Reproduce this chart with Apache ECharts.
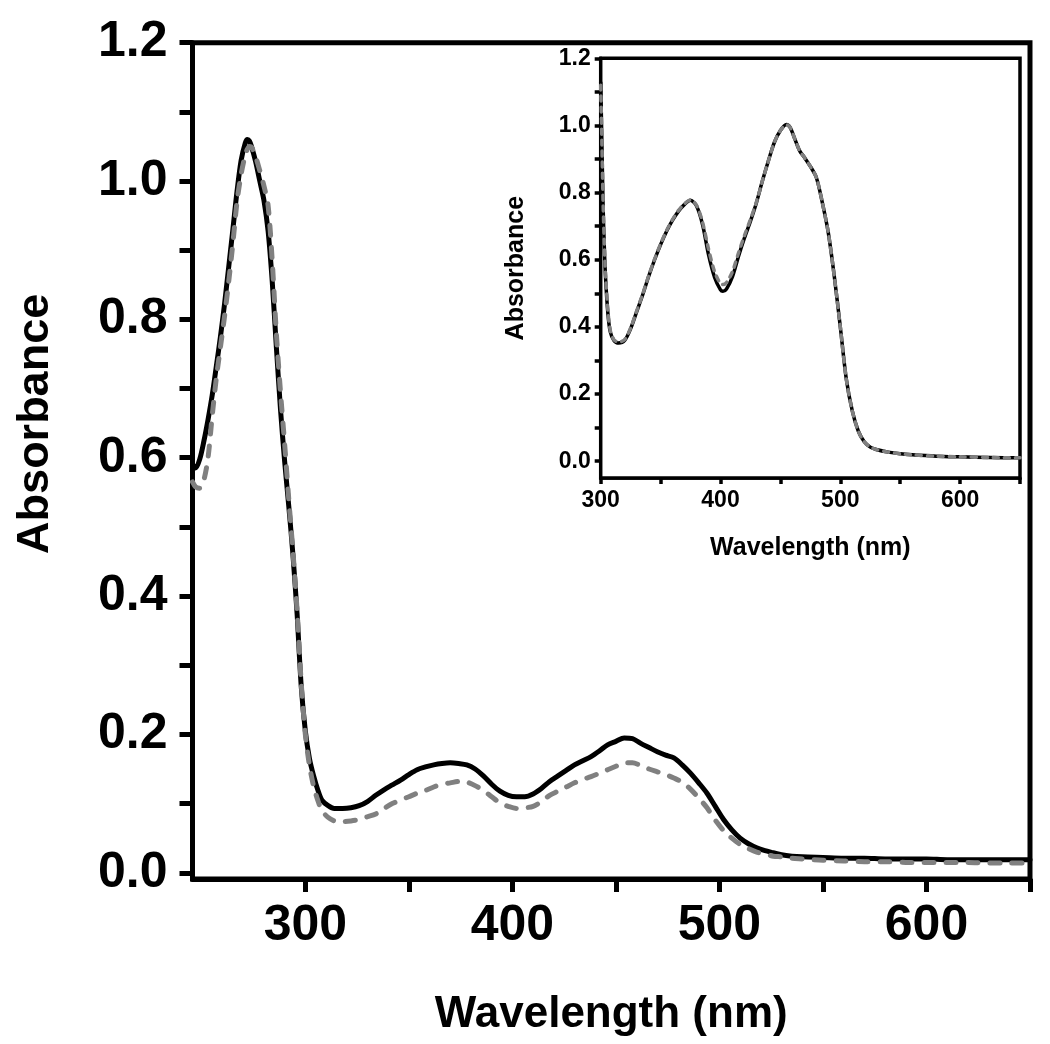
<!DOCTYPE html>
<html>
<head>
<meta charset="utf-8">
<script src="https://cdn.jsdelivr.net/npm/echarts@6/dist/echarts.min.js"></script>
<style>
html,body{margin:0;padding:0;background:#fff;}
#c{width:1050px;height:1044px;}
</style>
</head>
<body>
<div id="c"></div>
<script>
// ---------- Data ----------
const mainWl = [245.5,247,249,251,253,255,257,259,261,263,265,267,269,271,272,273,274,276,278,280,282,284,286,288,290,292,294,296,298,300,302,304,306,308,311,314,318,322,326,330,334,338,342,346,350,354,358,362,366,370,374,378,382,386,390,394,398,402,406,410,414,418,422,426,430,434,438,442,446,450,454,458,462,466,470,474,478,482,486,490,494,498,502,506,510,514,518,522,526,530,535,540,550,560,570,580,590,600,610,620,630,640,650];
const mainSolid = [0.590,0.585,0.598,0.624,0.655,0.690,0.732,0.775,0.823,0.876,0.930,0.985,1.030,1.055,1.060,1.058,1.050,1.028,1.000,0.972,0.928,0.855,0.760,0.670,0.595,0.530,0.460,0.375,0.270,0.205,0.165,0.140,0.120,0.105,0.097,0.093,0.093,0.094,0.097,0.103,0.112,0.120,0.127,0.134,0.142,0.149,0.153,0.156,0.158,0.159,0.158,0.156,0.150,0.140,0.128,0.118,0.112,0.110,0.110,0.114,0.122,0.132,0.140,0.148,0.156,0.162,0.168,0.176,0.185,0.190,0.195,0.194,0.187,0.181,0.175,0.170,0.166,0.156,0.144,0.130,0.115,0.096,0.077,0.062,0.050,0.042,0.036,0.032,0.029,0.026,0.024,0.023,0.022,0.021,0.021,0.020,0.020,0.020,0.019,0.019,0.019,0.019,0.019];
const mainDashed = [0.565,0.558,0.556,0.568,0.600,0.660,0.715,0.760,0.805,0.855,0.910,0.970,1.010,1.038,1.046,1.050,1.049,1.035,1.015,0.993,0.965,0.885,0.780,0.695,0.620,0.540,0.465,0.380,0.275,0.200,0.155,0.125,0.105,0.090,0.080,0.075,0.074,0.075,0.077,0.081,0.085,0.093,0.100,0.105,0.110,0.115,0.119,0.124,0.128,0.130,0.132,0.131,0.126,0.119,0.110,0.101,0.096,0.093,0.094,0.096,0.103,0.112,0.118,0.124,0.130,0.135,0.139,0.144,0.149,0.154,0.159,0.159,0.155,0.150,0.146,0.142,0.137,0.131,0.121,0.108,0.094,0.076,0.061,0.050,0.041,0.035,0.030,0.027,0.024,0.023,0.021,0.020,0.018,0.017,0.016,0.016,0.015,0.015,0.015,0.015,0.014,0.014,0.014];

const insetWl = [300,301,302,303,304,306,308,311,315,320,325,330,335,340,345,350,355,360,365,370,375,380,385,390,395,400,402,405,410,415,420,425,430,435,440,445,450,455,458,462,466,470,475,480,485,490,495,500,505,510,515,520,525,530,540,550,560,580,600,625,650];
const insetSolid = [1.13,0.95,0.76,0.64,0.55,0.44,0.385,0.36,0.352,0.36,0.395,0.445,0.495,0.550,0.600,0.645,0.685,0.718,0.745,0.765,0.777,0.760,0.705,0.615,0.548,0.510,0.506,0.513,0.550,0.610,0.665,0.715,0.770,0.835,0.895,0.950,0.985,1.003,0.995,0.960,0.925,0.905,0.878,0.845,0.770,0.680,0.550,0.400,0.245,0.150,0.090,0.058,0.042,0.035,0.027,0.022,0.019,0.015,0.013,0.011,0.010];
const insetDashed = [1.12,0.95,0.77,0.65,0.56,0.45,0.390,0.362,0.355,0.362,0.397,0.447,0.497,0.552,0.602,0.647,0.687,0.720,0.747,0.767,0.778,0.762,0.712,0.632,0.565,0.528,0.526,0.532,0.565,0.620,0.672,0.720,0.772,0.835,0.895,0.950,0.985,1.002,0.995,0.960,0.925,0.905,0.878,0.845,0.770,0.680,0.550,0.400,0.245,0.150,0.090,0.058,0.042,0.035,0.027,0.022,0.019,0.015,0.013,0.011,0.010];

const yTickValues = [0,0.1,0.2,0.3,0.4,0.5,0.6,0.7,0.8,0.9,1.0,1.1,1.2];
const yLabelValues = [0,0.2,0.4,0.6,0.8,1.0,1.2];
const xTickValues = [300,350,400,450,500,550,600,650];
const xLabelValues = [300,400,500,600];

// ---------- Chart ----------
const FONT = '"Liberation Sans", Arial, sans-serif';
const chart = echarts.init(document.getElementById('c'), null, {renderer: 'canvas'});

function pairs(x, y) { return x.map((w, i) => [w, y[i]]); }

function xAxisCfg(gridIndex, min, max, opts) {
  return {
    type: 'value', gridIndex, min, max, position: 'bottom',
    name: 'Wavelength (nm)', nameLocation: 'middle', nameGap: opts.nameGap,
    nameTextStyle: {fontFamily: FONT, fontWeight: 'bold', fontSize: opts.nameSize, color: '#000'},
    axisLine: {show: true, onZero: false, lineStyle: {color: '#000', width: opts.lw}},
    axisTick: {show: true, inside: false, length: opts.tickLen, customValues: xTickValues, lineStyle: {color: '#000', width: opts.lw}},
    axisLabel: {show: true, customValues: xLabelValues, margin: opts.labelMargin, fontFamily: FONT, fontWeight: 'bold', fontSize: opts.labelSize, color: '#000', formatter: v => String(v)},
    splitLine: {show: false}
  };
}
function yAxisCfg(gridIndex, min, max, opts) {
  return {
    type: 'value', gridIndex, min, max, position: 'left',
    name: 'Absorbance', nameLocation: 'middle', nameGap: opts.nameGap,
    nameTextStyle: {fontFamily: FONT, fontWeight: 'bold', fontSize: opts.nameSize, color: '#000', padding: opts.namePad},
    axisLine: {show: true, onZero: false, lineStyle: {color: '#000', width: opts.lw}},
    axisTick: {show: true, inside: false, length: opts.tickLen, customValues: yTickValues, lineStyle: {color: '#000', width: opts.lw}},
    axisLabel: {show: true, customValues: yLabelValues, margin: opts.labelMargin, fontFamily: FONT, fontWeight: 'bold', fontSize: opts.labelSize, color: '#000', formatter: v => v.toFixed(1)},
    splitLine: {show: false}
  };
}

const option = {
  backgroundColor: '#fff',
  animation: false,
  grid: [
    {left: 192.5, top: 42.7, right: 20, bottom: 165, show: true, borderColor: '#000', borderWidth: 5, backgroundColor: 'transparent', containLabel: false},
    {left: 600.7, top: 58.3, right: 30, bottom: 566, show: true, borderColor: '#000', borderWidth: 3.5, backgroundColor: '#fff', containLabel: false, z: 5}
  ],
  xAxis: [
    xAxisCfg(0, 245.5, 650, {nameGap: 114, nameSize: 44, lw: 5, tickLen: 13, labelMargin: 22, labelSize: 50}),
    xAxisCfg(1, 300, 650, {nameGap: 58, nameSize: 25, lw: 3.5, tickLen: 6, labelMargin: 11, labelSize: 23})
  ],
  yAxis: [
    yAxisCfg(0, -0.009, 1.2, {nameGap: 134, nameSize: 45, lw: 5, tickLen: 13, labelMargin: 25, labelSize: 50, namePad: [0, 0, 0, 74]}),
    yAxisCfg(1, -0.05, 1.2, {nameGap: 72, nameSize: 25, lw: 3.5, tickLen: 6, labelMargin: 10, labelSize: 23, namePad: 0})
  ],
  series: [
    {type: 'line', xAxisIndex: 0, yAxisIndex: 0, data: pairs(mainWl, mainSolid), showSymbol: false, symbol: 'none', smooth: 0.3, z: 2,
      lineStyle: {color: '#000', width: 5, join: 'round', cap: 'round'}},
    {type: 'line', xAxisIndex: 0, yAxisIndex: 0, data: pairs(mainWl, mainDashed), showSymbol: false, symbol: 'none', smooth: 0.3, z: 3,
      lineStyle: {color: '#808080', width: 5, type: [10, 12], cap: 'round', join: 'round'}},
    {type: 'line', xAxisIndex: 1, yAxisIndex: 1, data: pairs(insetWl, insetSolid), showSymbol: false, symbol: 'none', smooth: 0.3, z: 6,
      lineStyle: {color: '#000', width: 3.5, join: 'round'}},
    {type: 'line', xAxisIndex: 1, yAxisIndex: 1, data: pairs(insetWl, insetDashed), showSymbol: false, symbol: 'none', smooth: 0.3, z: 7,
      lineStyle: {color: '#808080', width: 3.5, type: [5, 6], cap: 'round', join: 'round'}}
  ]
};
chart.setOption(option);
</script>
</body>
</html>
